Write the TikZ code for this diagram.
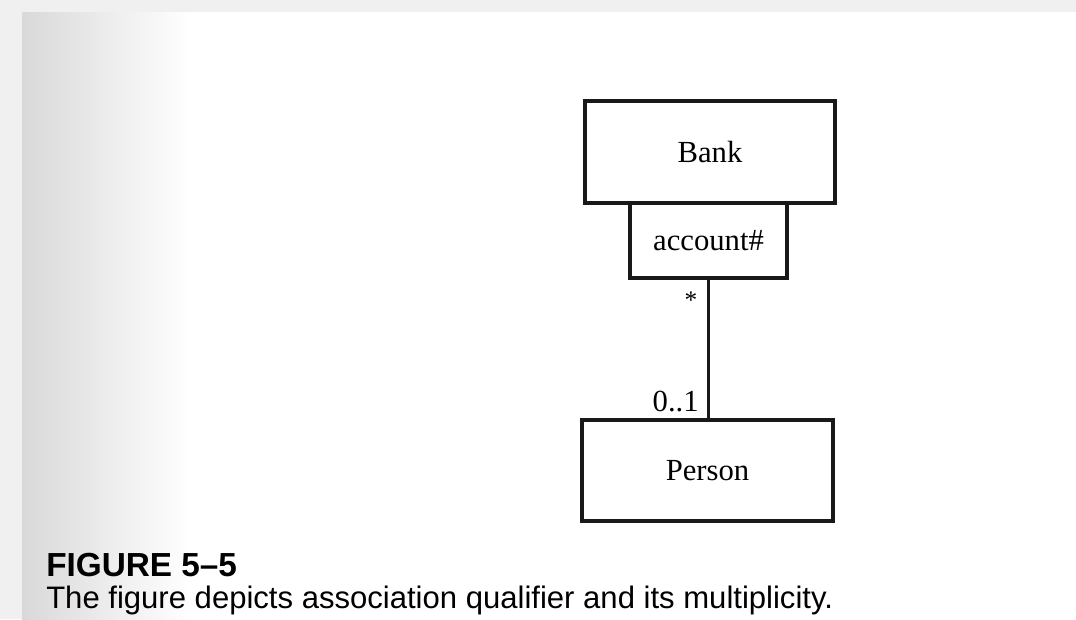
\documentclass[tikz,border=0pt]{standalone}
\usepackage{fontspec}
\setmainfont{Liberation Serif}
\newfontfamily\capfont{Liberation Sans}
\begin{document}
\begin{tikzpicture}[x=0.75pt,y=-0.75pt,
  umlclass/.style={draw=black!90,line width=2.5pt,rectangle,inner sep=0pt,
    font=\fontsize{23}{27}\selectfont},
  mult/.style={inner sep=0pt,font=\fontsize{23}{27}\selectfont},
  assoc/.style={draw=black!90,line width=2.5pt}]
  \useasboundingbox (0,0) rectangle (1076,619);
  % page background with gutter shadow
  \fill[white] (0,0) rectangle (1076,619);
  \fill[black!6] (0,0) rectangle (1076,12);
  \fill[black!6] (0,12) rectangle (22,619);
  \shade[left color=black!15,right color=white] (22,12) rectangle (190,619);

  % classes and qualifier
  \node[umlclass,minimum width=187.5pt,minimum height=76.5pt] (bank) at (710,152) {Bank};
  \node[umlclass,minimum width=117.75pt,minimum height=56.25pt] (acct) at (708.5,240.5) {account\#};
  \node[umlclass,minimum width=188.25pt,minimum height=75.75pt] (person) at (707.5,470.5) {Person};

  % qualified association
  \draw[assoc] (acct.south) -- (acct.south |- person.north);
  \node[mult,anchor=center,font=\fontsize{19}{22}\selectfont] (many) at (691,300) {*};
  \node[mult,anchor=base east] (opt) at (699,411) {0..1};

  % caption
  \node[anchor=base west,inner sep=0pt,font=\capfont\bfseries\fontsize{25}{29}\selectfont] (fig) at (46,576) {FIGURE 5\textendash5};
  \node[anchor=base west,inner sep=0pt,font=\capfont\fontsize{23.3}{27}\selectfont] (cap) at (46,608) {The figure depicts association qualifier and its multiplicity.};
\end{tikzpicture}
\end{document}
